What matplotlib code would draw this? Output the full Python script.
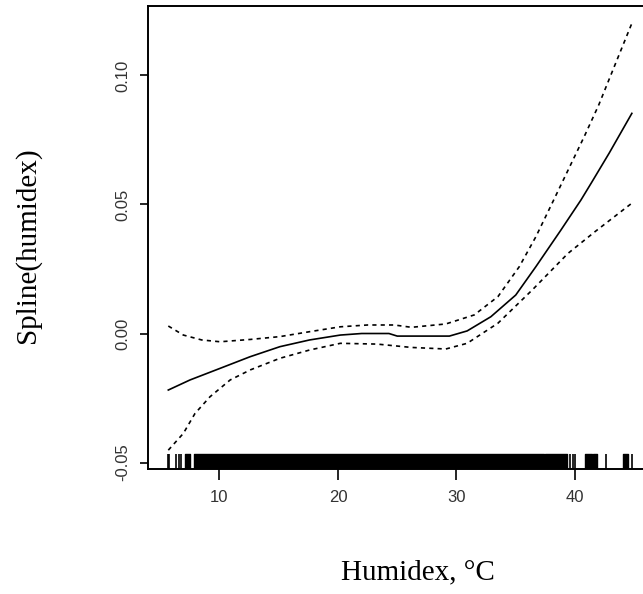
import matplotlib
matplotlib.use("Agg")
import matplotlib.pyplot as plt
import matplotlib.transforms as mtransforms

# spline fit and confidence bands
fit_x = [5.68, 7.51, 10.05, 12.58, 15.1, 17.6, 20.2, 22.0, 24.3, 25.0, 29.4,
         30.9, 32.9, 35.0, 36.7, 38.8, 40.5, 41.4, 42.9, 44.8]
fit_y = [-0.0219, -0.018, -0.0135, -0.009, -0.0051, -0.0025, -0.0006, 0.0,
         0.0, -0.001, -0.001, 0.001, 0.0065, 0.0149, 0.0259, 0.040, 0.0517,
         0.0585, 0.0700, 0.0853]

upper_x = [5.68, 6.95, 8.5, 10.05, 12.6, 15.1, 17.6, 20.2, 22.5, 24.75, 26.2,
           29.1, 31.5, 33.5, 35.3, 36.7, 38.2, 40.8, 42.0, 43.5, 44.8]
upper_y = [0.0029, -0.0006, -0.0025, -0.0032, -0.0023, -0.0012, 0.0007,
           0.0026, 0.0033, 0.0033, 0.0024, 0.0037, 0.0072, 0.0143, 0.0259,
           0.0375, 0.0517, 0.0765, 0.0885, 0.1055, 0.1202]

lower_x = [5.68, 6.95, 7.93, 9.2, 10.9, 12.6, 15.1, 17.6, 20.2, 23.3, 26.2,
           29.1, 30.9, 33.5, 36.4, 39.4, 41.7, 44.8]
lower_y = [-0.0452, -0.0387, -0.031, -0.0245, -0.018, -0.0141, -0.0096,
           -0.0064, -0.0038, -0.0041, -0.0054, -0.006, -0.0038, 0.004, 0.0169,
           0.031, 0.0395, 0.0505]

# rug of observed humidex values (single ticks + solid runs)
rug_single = [5.63, 5.74, 6.33, 6.55, 6.75, 39.6, 39.8, 40.0, 42.6, 44.8]
rug_runs = [(7.05, 7.5), (7.85, 37.4), (37.5, 39.3), (40.85, 41.4),
            (41.55, 41.85), (44.05, 44.5)]

x_ticks = [10, 20, 30, 40]
y_ticks = [-0.05, 0.00, 0.05, 0.10]
y_ticklabels = ["-0.05", "0.00", "0.05", "0.10"]

fig = plt.figure(figsize=(6.43, 5.94), dpi=100)
ax = fig.add_axes([148.4 / 643, 1 - 469 / 594, (652 - 148.4) / 643, 463 / 594])

ax.plot(fit_x, fit_y, color="black", lw=1.2)
ax.plot(upper_x, upper_y, color="black", lw=1.2, dashes=(2.5, 2.5))
ax.plot(lower_x, lower_y, color="black", lw=1.2, dashes=(2.5, 2.5))

# rug along the bottom
trans = mtransforms.blended_transform_factory(ax.transData, ax.transAxes)
ax.vlines(rug_single, 0, 0.032, transform=trans, color="black", lw=1.2)
ax.broken_barh([(a, b - a) for a, b in rug_runs], (0, 0.032),
               transform=trans, color="black")

ax.set_xlim(4.0, 46.5)
ax.set_ylim(-0.0525, 0.1269)

ax.set_xticks(x_ticks)
ax.set_yticks(y_ticks)
ax.set_yticklabels(y_ticklabels, rotation=90, va="center")
ax.tick_params(axis="x", length=8, width=1.2, pad=7, labelsize=12,
               labelcolor="#333333")
ax.tick_params(axis="y", length=6, width=1.2, pad=7, labelsize=12,
               labelcolor="#333333")
for lab in ax.get_xticklabels() + ax.get_yticklabels():
    lab.set_family("Liberation Sans")

for side in ["left", "top", "bottom", "right"]:
    ax.spines[side].set_linewidth(1.4)

fig.text(418 / 643, 1 - 572 / 594, "Humidex, \u00b0C", family="Liberation Serif",
         fontsize=21, ha="center", va="center")
fig.text(28 / 643, 1 - 245 / 594, "Spline(humidex)", family="Liberation Serif",
         fontsize=21, ha="center", va="center", rotation=90)

plt.savefig("out.png", dpi=100)
